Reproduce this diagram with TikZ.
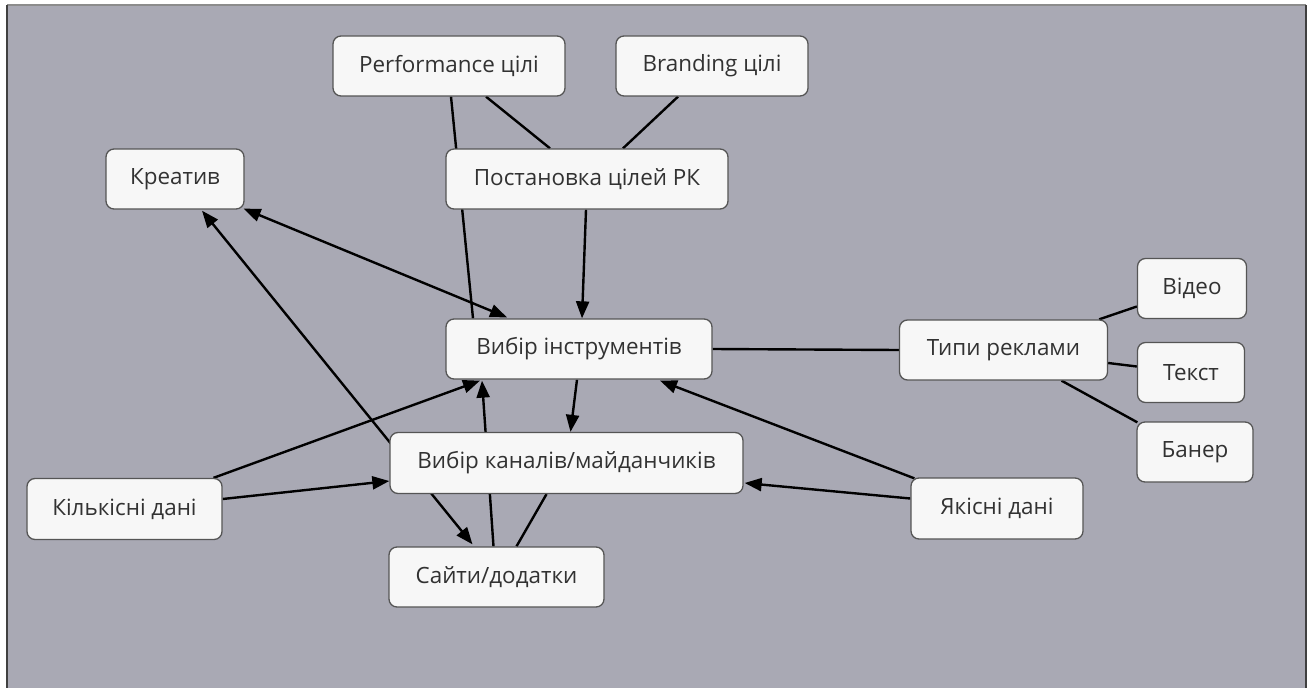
\documentclass[tikz,border=0pt]{standalone}
\usepackage{fontspec}
\setmainfont{Open Sans}
\usetikzlibrary{arrows.meta,calc}
\definecolor{canvas}{RGB}{169,169,180}
\definecolor{boxfill}{RGB}{247,247,247}
\definecolor{boxline}{RGB}{85,85,85}
\definecolor{label}{RGB}{50,50,50}
\pgfdeclarelayer{frame}
\pgfdeclarelayer{links}
\pgfsetlayers{frame,links,main}
\tikzset{
  box/.style={draw=boxline, line width=1.3bp, fill=boxfill, rounded corners=8bp,
    text=label, font=\fontsize{22.5}{26}\selectfont, inner sep=0pt, anchor=center},
  link/.style={line width=2.4bp, black},
  tip/.style={link, -{Triangle[length=17bp,width=13bp]}},
  bitip/.style={link, {Triangle[length=17bp,width=13bp]}-{Triangle[length=17bp,width=13bp]}},
}
\begin{document}
\begin{tikzpicture}[x=1bp,y=-1bp]
\useasboundingbox (0,0) rectangle (1312,687);

% nodes: centre, width, height in pixel units
\node[box, minimum width=232bp, minimum height=60bp] (perf)  at (449,66)     {Performance цілі};
\node[box, minimum width=192bp, minimum height=60bp] (brand) at (712,66)     {Branding цілі};
\node[box, minimum width=138bp, minimum height=60bp] (kreat) at (175,179)    {Креатив};
\node[box, minimum width=282bp, minimum height=60bp] (post)  at (587,179)    {Постановка цілей РК};
\node[box, minimum width=266bp, minimum height=60bp] (instr) at (579,349)    {Вибір інструментів};
\node[box, minimum width=208bp, minimum height=60bp] (types) at (1003.5,350) {Типи реклами};
\node[box, minimum width=109bp, minimum height=60bp] (video) at (1192,288.5) {Відео};
\node[box, minimum width=107bp, minimum height=60bp] (txt)   at (1191,372.5) {Текст};
\node[box, minimum width=116bp, minimum height=60bp] (baner) at (1195,452)   {Банер};
\node[box, minimum width=353bp, minimum height=61bp] (chan)  at (566.5,463)  {Вибір каналів/майданчиків};
\node[box, minimum width=195bp, minimum height=61bp] (kilk)  at (124.5,509)  {Кількісні дані};
\node[box, minimum width=172bp, minimum height=61bp] (yak)   at (997,508.5)  {Якісні дані};
\node[box, minimum width=215bp, minimum height=60bp] (sites) at (496.5,577)  {Сайти/додатки};

% canvas with its frame
\begin{pgfonlayer}{frame}
  \fill[canvas] (7,5) rectangle (1306,700);
  \draw[line width=1.5bp, black!45] (7,5) -- (1306,5);
  \draw[line width=2bp, black!75] (7,5) -- (7,700);
  \draw[line width=2bp, black!75] (1306,5) -- (1306,700);
\end{pgfonlayer}

% connectors, drawn beneath the boxes
\begin{pgfonlayer}{links}
  \draw[link] ($(perf.south)+(2,0)$)   -- ($(instr.north)+(-106,0)$);
  \draw[link] ($(perf.south)+(37,0)$)  -- ($(post.north)+(-37,0)$);
  \draw[link] ($(brand.south)+(-34,0)$) -- ($(post.north)+(36,0)$);
  \draw[tip]  ($(post.south)+(-1,0)$)  -- ($(instr.north)+(3,0)$);
  \draw[bitip] ($(kreat.south east)+(-1,-1)$) -- ($(instr.north)+(-72,-1)$);
  \draw[bitip] ($(kreat.south)+(27,1)$) -- ($(sites.north)+(-24,-2)$);
  \draw[tip]  ($(kilk.north)+(89,0)$)  -- ($(instr.south)+(-99,1)$);
  \draw[tip]  ($(kilk.east)+(0,-10)$)  -- ($(chan.west)+(0,18)$);
  \draw[tip]  ($(sites.north)+(-3,0)$) -- ($(instr.south)+(-97,1)$);
  \draw[link] ($(sites.north)+(20,0)$) -- ($(chan.south)+(-20,0)$);
  \draw[tip]  ($(instr.south)+(-2,0)$) -- ($(chan.north)+(4,0)$);
  \draw[tip]  ($(yak.north west)+(4,1)$) -- ($(instr.south)+(81,1)$);
  \draw[tip]  ($(yak.west)+(0,-10)$)   -- ($(chan.east)+(1,20)$);
  \draw[link] (instr.east) -- (types.west);
  \draw[link] ($(types.north east)+(-9,0)$) -- ($(video.west)+(0,18)$);
  \draw[link] ($(types.east)+(0,13)$)  -- ($(txt.west)+(0,-6)$);
  \draw[link] ($(types.south)+(58,0)$) -- ($(baner.north west)+(1,1)$);
\end{pgfonlayer}
\end{tikzpicture}
\end{document}
